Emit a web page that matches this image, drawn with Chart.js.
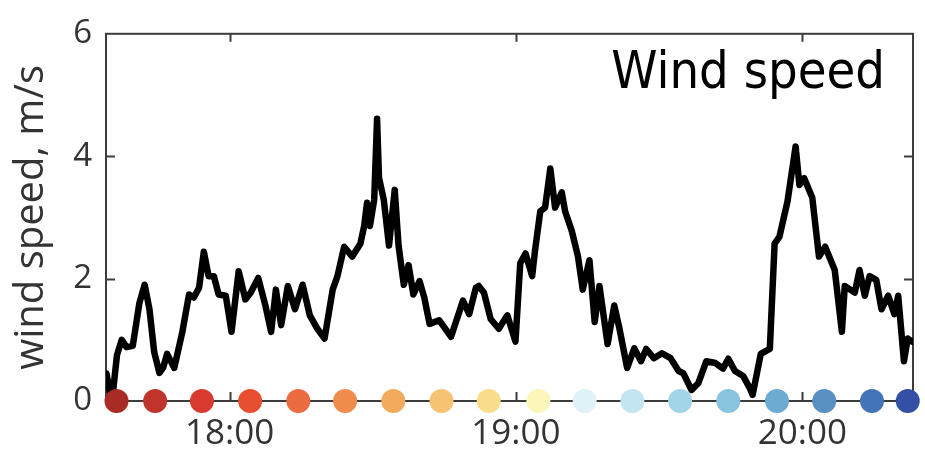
<!DOCTYPE html>
<html>
<head>
<meta charset="utf-8">
<title>Wind speed</title>
<script src="https://cdn.jsdelivr.net/npm/chart.js@4/dist/chart.umd.min.js"></script>
<style>
  html, body { margin: 0; padding: 0; background: #fff; }
  canvas { display: block; }
</style>
</head>
<body>
<canvas id="wind" width="925" height="453"></canvas>
<script>
// time in minutes relative to 18:00, wind speed in m/s
const timeMin = [
  -25.8, -25.1, -24.5, -23.6, -22.6, -21.6, -20.3, -18.9, -17.8, -16.8,
  -15.8, -14.7, -13.9, -13.1, -11.6, -9.9, -8.5, -7.5, -6.4, -5.4,
  -4.4, -3.3, -2.3, -0.8, 0.4, 1.9, 3.3, 4.4, 6.0, 7.5,
  8.7, 9.7, 10.8, 12.2, 13.7, 15.3, 16.8, 18.4, 19.9, 21.6,
  22.6, 24.0, 25.7, 27.4, 28.2, 28.8, 29.4, 30.3, 30.9, 31.3,
  32.3, 33.4, 34.6, 35.4, 36.5, 37.5, 38.5, 39.8, 40.8, 41.9,
  43.9, 46.4, 48.9, 50.2, 51.6, 52.2, 53.3, 54.7, 56.4, 58.2,
  59.9, 60.9, 62.0, 63.4, 64.0, 65.1, 66.1, 67.2, 68.2, 69.6,
  70.3, 71.7, 73.0, 74.0, 75.4, 76.5, 77.5, 79.2, 80.6, 81.7,
  83.3, 84.8, 86.2, 87.3, 88.9, 90.6, 92.4, 94.1, 95.1, 96.8,
  98.2, 99.9, 101.8, 103.4, 104.5, 105.9, 107.6, 109.0, 109.6, 111.3,
  113.2, 114.2, 115.2, 116.9, 118.6, 119.4, 120.4, 122.1, 123.5, 124.8,
  126.8, 128.3, 128.9, 131.0, 132.0, 133.1, 134.1, 135.5, 136.6, 138.0,
  139.3, 140.1, 141.3, 142.1, 143.0
];
const windSpeed = [
  0.45, 0.15, 0.1, 0.75, 1.0, 0.88, 0.9, 1.6, 1.9, 1.5,
  0.8, 0.46, 0.55, 0.77, 0.54, 1.13, 1.74, 1.69, 1.85, 2.44,
  2.04, 2.04, 1.74, 1.72, 1.13, 2.12, 1.66, 1.77, 2.01, 1.56,
  1.13, 1.82, 1.24, 1.88, 1.5, 1.9, 1.4, 1.18, 1.02, 1.82,
  2.04, 2.52, 2.36, 2.57, 2.86, 3.24, 2.86, 3.29, 4.61, 3.65,
  3.29, 2.54, 3.45, 2.54, 1.9, 2.22, 1.74, 1.96, 1.69, 1.26,
  1.32, 1.05, 1.64, 1.42, 1.85, 1.88, 1.77, 1.34, 1.18, 1.4,
  0.97, 2.25, 2.41, 2.04, 2.46, 3.1, 3.16, 3.8, 3.16, 3.41,
  3.1, 2.78, 2.36, 1.82, 2.3, 1.29, 1.88, 0.93, 1.56, 1.18,
  0.54, 0.86, 0.65, 0.85, 0.7, 0.78, 0.7, 0.49, 0.45, 0.18,
  0.29, 0.65, 0.62, 0.53, 0.69, 0.49, 0.41, 0.21, 0.1, 0.77,
  0.85, 2.57, 2.68, 3.26, 4.16, 3.53, 3.64, 3.32, 2.36, 2.52,
  2.14, 1.13, 1.88, 1.77, 2.14, 1.72, 2.04, 1.98, 1.5, 1.72,
  1.42, 1.72, 0.65, 1.02, 0.97
];

// coloured time markers along the zero line
const markerMin = [
  -23.7, -15.6, -5.8, 4.3, 14.4, 24.2, 34.3, 44.4, 54.3,
  64.7, 74.4, 84.4, 94.4, 104.5, 114.7, 124.6, 134.6, 142.1
];
const markerColors = [
  '#a82c25', '#c1342b', '#d93a30', '#e84e30', '#ec6b40', '#f08c4c',
  '#f3aa5c', '#f6c372', '#f8dd8a', '#fcf7b8', '#e0f1f7', '#c3e5f1',
  '#a2d5e8', '#88c4df', '#6eabd2', '#5890c3', '#4474b8', '#3450a6'
];

const tickMinutes = [0, 60, 120];
const tickLabels = ['18:00', '19:00', '20:00'];
const yTicks = [0, 2, 4, 6];

const AXIS_COLOR = '#3c3c3c';
const LABEL_FONT = '"Open Sans", "DejaVu Sans", sans-serif';

// box around the plot with inward tick marks, and the panel title
const framePlugin = {
  id: 'frame',
  beforeDatasetsDraw(chart) {
    const { ctx, chartArea: a, scales: { x, y } } = chart;
    ctx.save();
    ctx.strokeStyle = AXIS_COLOR;
    ctx.lineWidth = 2;
    ctx.strokeRect(a.left, a.top, a.right - a.left, a.bottom - a.top);
    ctx.beginPath();
    tickMinutes.forEach((m) => {
      const px = Math.round(x.getPixelForValue(m)) + 0.5;
      ctx.moveTo(px, a.top);
      ctx.lineTo(px, a.top + 8);
      ctx.moveTo(px, a.bottom);
      ctx.lineTo(px, a.bottom - 9);
    });
    [2, 4].forEach((v) => {
      const py = Math.round(y.getPixelForValue(v)) + 0.5;
      ctx.moveTo(a.left, py);
      ctx.lineTo(a.left + 9, py);
      ctx.moveTo(a.right, py);
      ctx.lineTo(a.right - 9, py);
    });
    ctx.stroke();
    ctx.restore();
  },
  afterDatasetsDraw(chart) {
    const { ctx, chartArea: a } = chart;
    ctx.save();
    ctx.fillStyle = '#000';
    ctx.font = '52px "DejaVu Sans Condensed", "DejaVu Sans", sans-serif';
    ctx.textAlign = 'right';
    ctx.textBaseline = 'alphabetic';
    ctx.fillText('Wind speed', a.right - 28, a.top + 54);
    ctx.restore();
  }
};

new Chart(document.getElementById('wind'), {
  type: 'scatter',
  data: {
    datasets: [
      {
        label: 'markers',
        data: markerMin.map((m) => ({ x: m, y: 0 })),
        pointRadius: 12,
        pointHoverRadius: 12,
        pointBorderWidth: 0,
        pointBackgroundColor: markerColors,
        showLine: false,
        clip: false,
        order: 0
      },
      {
        label: 'wind speed',
        data: timeMin.map((m, i) => ({ x: m, y: windSpeed[i] })),
        showLine: true,
        borderColor: '#000',
        borderWidth: 6.5,
        borderJoinStyle: 'round',
        borderCapStyle: 'round',
        tension: 0,
        pointRadius: 0,
        order: 1
      }
    ]
  },
  options: {
    responsive: false,
    animation: false,
    devicePixelRatio: 1,
    layout: { padding: { top: 25, right: 3, left: 0, bottom: 0 } },
    plugins: {
      legend: { display: false },
      tooltip: { enabled: false }
    },
    scales: {
      x: {
        type: 'linear',
        min: -25.9,
        max: 143.2,
        afterFit(scale) { scale.height = 52; },
        afterBuildTicks(scale) {
          scale.ticks = tickMinutes.map((v) => ({ value: v }));
        },
        grid: { display: false, drawTicks: false },
        border: { display: false },
        ticks: {
          padding: 12,
          color: '#333',
          font: { family: LABEL_FONT, size: 35 },
          maxRotation: 0,
          callback: (v) => tickLabels[tickMinutes.indexOf(v)]
        }
      },
      y: {
        min: 0,
        max: 6,
        afterFit(scale) { scale.width = 106; },
        afterBuildTicks(scale) {
          scale.ticks = yTicks.map((v) => ({ value: v }));
        },
        grid: { display: false, drawTicks: false },
        border: { display: false },
        title: {
          display: true,
          text: 'wind speed, m/s',
          color: '#333',
          font: { family: LABEL_FONT, size: 40 },
          padding: { top: 8, bottom: 0 }
        },
        ticks: {
          padding: 14,
          color: '#333',
          font: { family: LABEL_FONT, size: 33 }
        }
      }
    }
  },
  plugins: [framePlugin]
});
</script>
</body>
</html>
